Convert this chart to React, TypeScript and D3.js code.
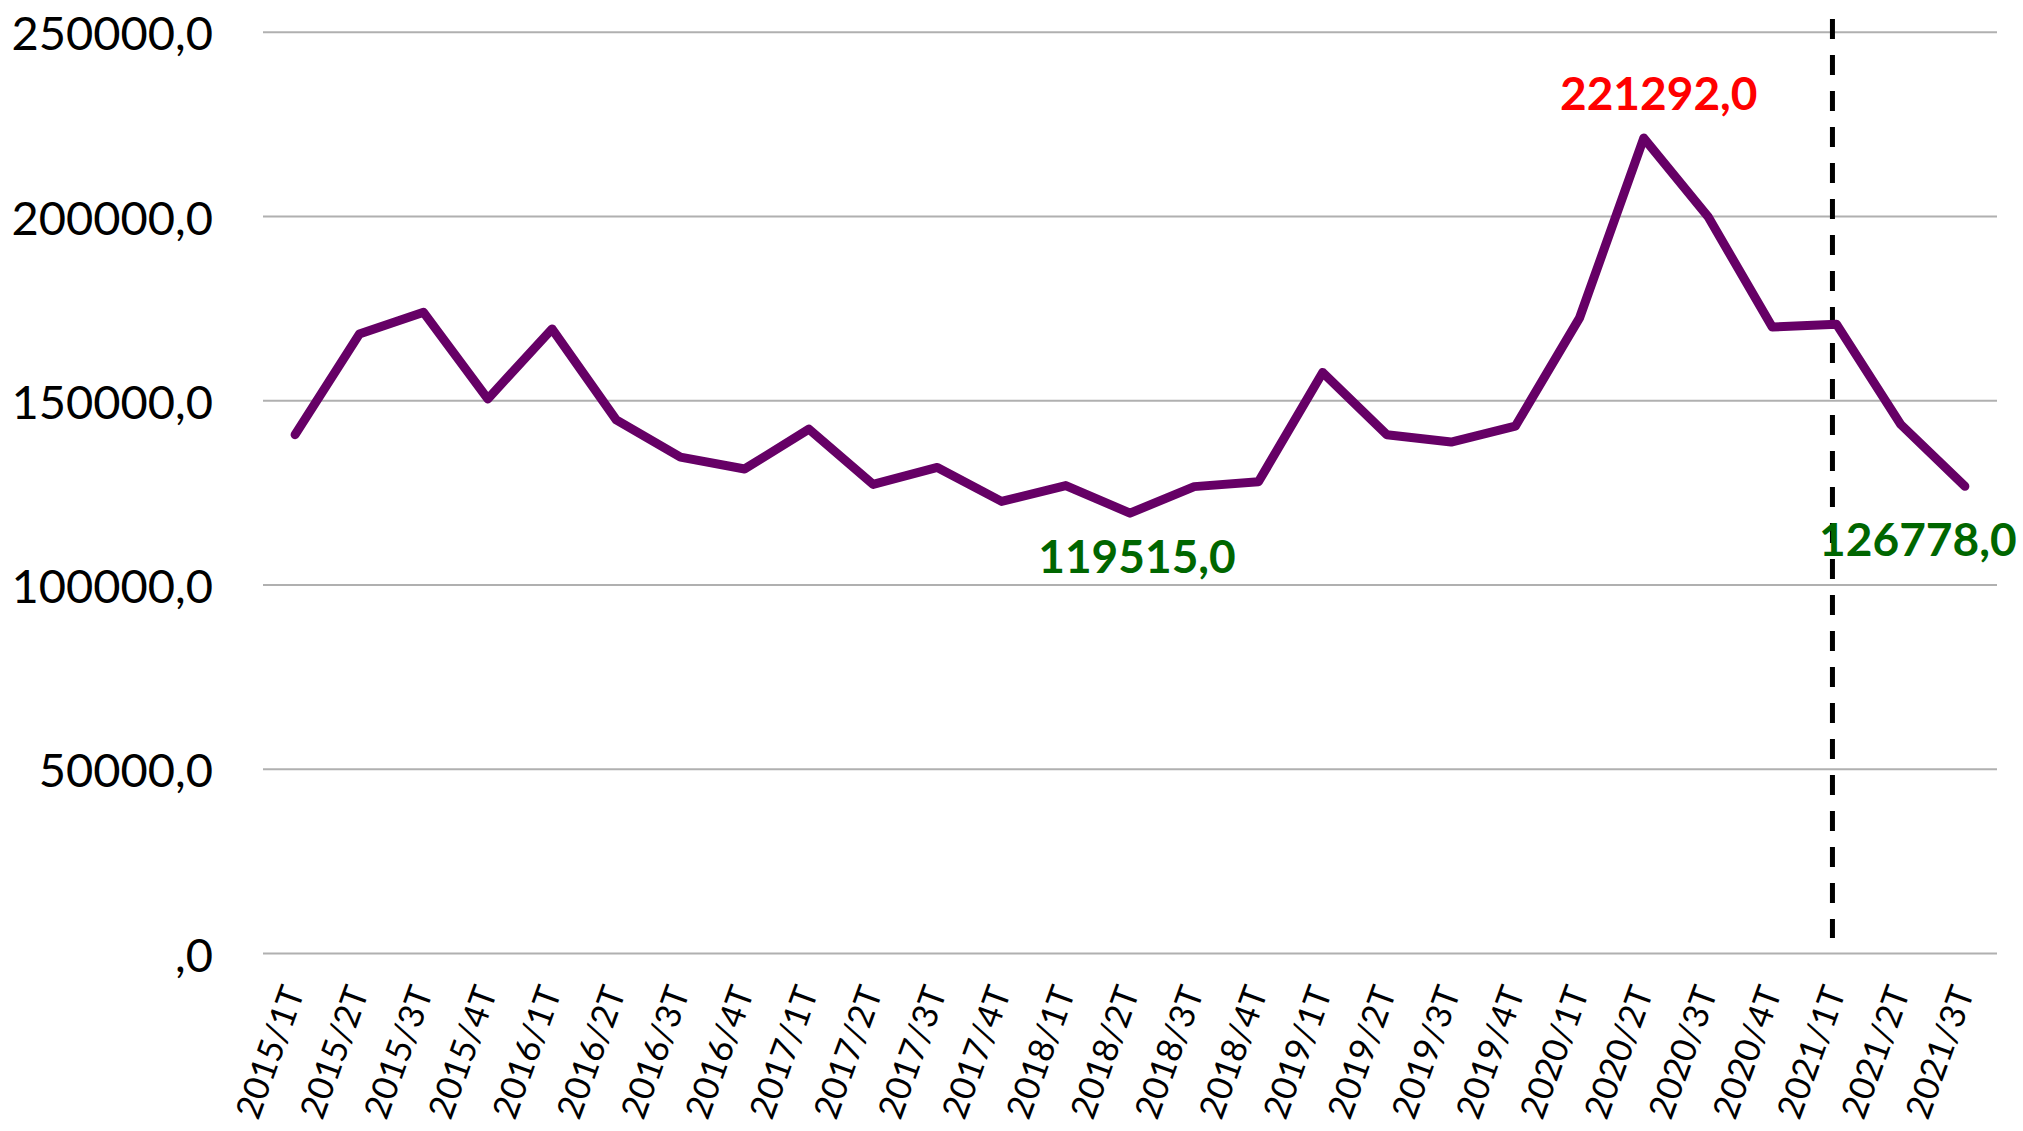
import * as d3 from "d3";

const QUARTERS = [
  "2015/1T", "2015/2T", "2015/3T", "2015/4T",
  "2016/1T", "2016/2T", "2016/3T", "2016/4T",
  "2017/1T", "2017/2T", "2017/3T", "2017/4T",
  "2018/1T", "2018/2T", "2018/3T", "2018/4T",
  "2019/1T", "2019/2T", "2019/3T", "2019/4T",
  "2020/1T", "2020/2T", "2020/3T", "2020/4T",
  "2021/1T", "2021/2T", "2021/3T",
];

const VALUES = [
  140800, 168100, 174000, 150500,
  169500, 144800, 134700, 131500,
  142300, 127300, 131900, 122700,
  127000, 119515, 126700, 128000,
  157700, 140800, 138800, 143100,
  172500, 221292, 200000, 170000,
  170800, 143600, 126778,
];

const Y_TICKS = [0, 50000, 100000, 150000, 200000, 250000];

// highlighted points: peak and the two lows
const CALLOUT_QUARTERS = ["2020/2T", "2018/2T", "2021/3T"];
const CALLOUT_COLORS = ["#ff0000", "#006600", "#006600"];

const DIVIDER_QUARTER = "2021/1T";

const W = 2023;
const H = 1131;

const PLOT = { left: 263, right: 1997, top: 32.3, bottom: 953.5 };

const FONT = "Lato, 'Open Sans', sans-serif";

const STYLE = {
  grid: "#b0b0b0",
  gridWidth: 2,
  line: "#660066",
  lineWidth: 9,
  tickFont: 47,
  xFont: 35,
  xAngle: -70,
  calloutFont: 46,
};

// offsets of the callout text from its point (dx of text centre, dy of baseline)
const CALLOUT_OFFSETS = [
  { dx: 15, dy: -28 },
  { dx: 7, dy: 60 },
  { dx: -47, dy: 70 },
];

const fmt = (v: number) => {
  const s = d3.format(".1f")(v).replace(".", ",");
  return v === 0 ? s.slice(1) : s;
};

export default function App() {
  const x = d3
    .scaleBand<string>()
    .domain(QUARTERS)
    .range([PLOT.left, PLOT.right]);
  const cx = (q: string) => (x(q) ?? 0) + x.bandwidth() / 2;

  const y = d3
    .scaleLinear()
    .domain([0, 250000])
    .range([PLOT.bottom, PLOT.top]);

  const line = d3
    .line<number>()
    .x((_, i) => cx(QUARTERS[i]))
    .y((d) => y(d));

  const divX = cx(DIVIDER_QUARTER) - 4;

  return (
    <svg
      width={W}
      height={H}
      style={{ display: "block", background: "#fff" }}
      xmlns="http://www.w3.org/2000/svg"
    >
      <style>{`body{margin:0}`}</style>

      <g className="grid">
        {Y_TICKS.map((t) => (
          <line
            key={t}
            x1={PLOT.left}
            x2={PLOT.right}
            y1={y(t)}
            y2={y(t)}
            stroke={STYLE.grid}
            strokeWidth={STYLE.gridWidth}
          />
        ))}
      </g>

      <g className="y-axis">
        {Y_TICKS.map((t) => (
          <text
            key={t}
            x={213}
            y={y(t)}
            textAnchor="end"
            dominantBaseline="central"
            fontFamily={FONT}
            fontSize={STYLE.tickFont}
            fill="#000"
          >
            {fmt(t)}
          </text>
        ))}
      </g>

      <g className="x-axis">
        {QUARTERS.map((q) => {
          const tx = cx(q) + 10;
          const ty = PLOT.bottom + 38;
          return (
            <text
              key={q}
              x={tx}
              y={ty}
              transform={`rotate(${STYLE.xAngle},${tx},${ty})`}
              textAnchor="end"
              fontFamily={FONT}
              fontSize={STYLE.xFont}
              fill="#000"
            >
              {q}
            </text>
          );
        })}
      </g>

      <line
        x1={divX}
        x2={divX}
        y1={19}
        y2={938}
        stroke="#000"
        strokeWidth={5}
        strokeDasharray="20,16"
      />

      <path
        d={line(VALUES) ?? undefined}
        fill="none"
        stroke={STYLE.line}
        strokeWidth={STYLE.lineWidth}
        strokeLinejoin="round"
        strokeLinecap="round"
      />

      <g className="callouts">
        {CALLOUT_QUARTERS.map((q, i) => {
          const v = VALUES[QUARTERS.indexOf(q)];
          return (
            <text
              key={q}
              x={cx(q) + CALLOUT_OFFSETS[i].dx}
              y={y(v) + CALLOUT_OFFSETS[i].dy}
              textAnchor="middle"
              fontFamily={FONT}
              fontWeight="bold"
              fontSize={STYLE.calloutFont}
              fill={CALLOUT_COLORS[i]}
            >
              {fmt(v)}
            </text>
          );
        })}
      </g>
    </svg>
  );
}
